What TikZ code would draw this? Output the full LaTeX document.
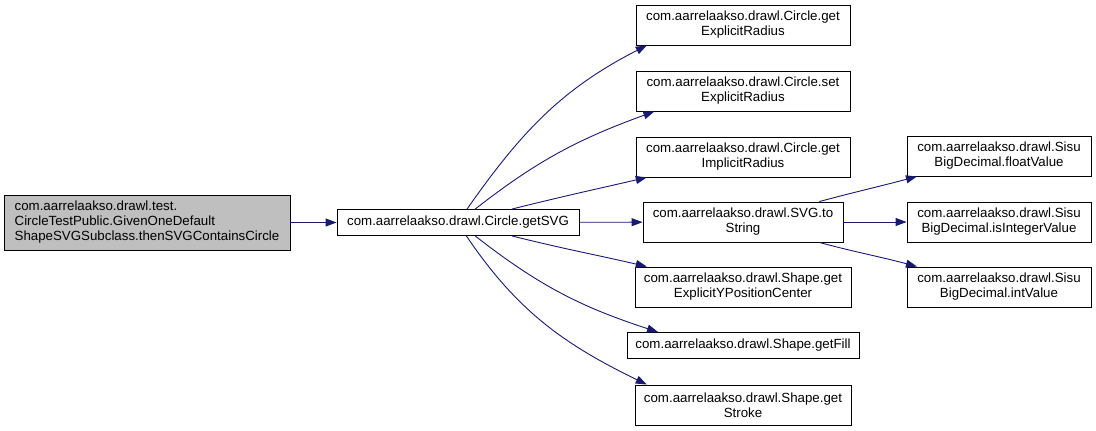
\documentclass[tikz,border=0pt]{standalone}
\usepackage{fontspec}
\setmainfont{Liberation Sans}
\usetikzlibrary{arrows.meta}
\definecolor{edg}{RGB}{25,25,112}
\definecolor{cur}{RGB}{191,191,191}

\begin{document}
\begin{tikzpicture}[x=1pt,y=1pt,
  every node/.style={font=\fontsize{13.3}{15}\selectfont,inner sep=0pt},
  fn/.style={draw,line width=0.9pt,align=center,minimum height=40pt},
  fn1/.style={fn,minimum height=26pt},
  cr/.style={fn,fill=cur,align=left,minimum width=286pt,minimum height=55pt},
  ed/.style={draw=edg,line width=0.9pt,-{Triangle[length=11pt,width=8pt]}}]
\useasboundingbox (0,0) rectangle (1096,-431);
\node[cr] (main) at (147,-222.5) {com.aarrelaakso.drawl.test.\\CircleTestPublic.GivenOneDefault\\ShapeSVGSubclass.thenSVGContainsCircle};
\node[fn1,minimum width=242pt] (svg) at (458,-222.5) {com.aarrelaakso.drawl.Circle.getSVG};
\node[fn,minimum width=214pt] (ger) at (743,-25) {com.aarrelaakso.drawl.Circle.get\\ExplicitRadius};
\node[fn,minimum width=214pt] (ser) at (743,-91) {com.aarrelaakso.drawl.Circle.set\\ExplicitRadius};
\node[fn,minimum width=214pt] (gir) at (743,-157) {com.aarrelaakso.drawl.Circle.get\\ImplicitRadius};
\node[fn,minimum width=200pt] (tos) at (743,-222) {com.aarrelaakso.drawl.SVG.to\\String};
\node[fn,minimum width=216pt] (gyc) at (743,-287) {com.aarrelaakso.drawl.Shape.get\\ExplicitYPositionCenter};
\node[fn1,minimum width=232pt] (gfill) at (743,-345.5) {com.aarrelaakso.drawl.Shape.getFill};
\node[fn,minimum width=216pt] (gstroke) at (743,-405) {com.aarrelaakso.drawl.Shape.get\\Stroke};
\node[fn,minimum width=184pt] (fv) at (999,-156) {com.aarrelaakso.drawl.Sisu\\BigDecimal.floatValue};
\node[fn,minimum width=184pt] (iv) at (999,-222) {com.aarrelaakso.drawl.Sisu\\BigDecimal.isIntegerValue};
\node[fn,minimum width=184pt] (intv) at (999,-287) {com.aarrelaakso.drawl.Sisu\\BigDecimal.intValue};
\draw[ed] (main) -- (svg);
\draw[ed] (svg.56) to[out=55,in=207] (ger.192);
\draw[ed] (svg.38) to[out=38,in=200] (ser.193);
\draw[ed] (svg.14) to[out=14,in=193] (gir.192);
\draw[ed] (svg) -- (tos);
\draw[ed] (svg.-14) to[out=-14,in=167] (gyc.168);
\draw[ed] (svg.-38) to[out=-38,in=162] (gfill.171);
\draw[ed] (svg.-58) to[out=-56,in=154] (gstroke.168);
\draw[ed] (tos.15) to[out=15,in=195] (fv.194);
\draw[ed] (tos) -- (iv);
\draw[ed] (tos.-15) to[out=-15,in=165] (intv.166);
\end{tikzpicture}
\end{document}
